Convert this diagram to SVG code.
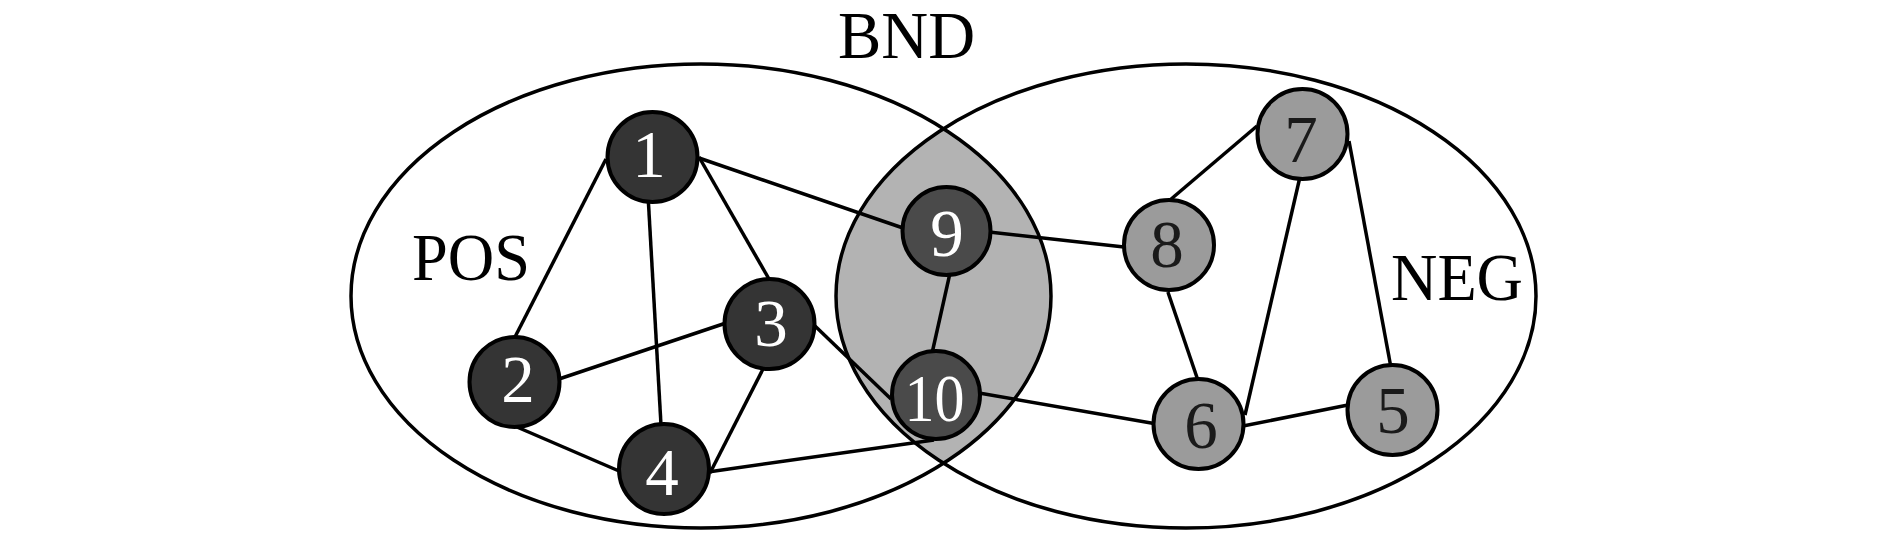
<svg xmlns="http://www.w3.org/2000/svg" width="1890" height="543" viewBox="0 0 1890 543">
<style>
.set{fill:none;stroke:#000;stroke-width:3.5}
.edge{stroke:#000;stroke-width:3.5;fill:none}
.dark{fill:#343434;stroke:#000;stroke-width:4}
.bnd{fill:#4a4a4a;stroke:#000;stroke-width:4}
.light{fill:#9b9b9b;stroke:#000;stroke-width:4}
.lab{font-family:"Liberation Serif","Times New Roman",serif;font-size:68px;fill:#000}
.num{font-family:"Liberation Serif","Times New Roman",serif;font-size:67px;text-anchor:middle}
.w{fill:#fff}
.b{fill:#1a1a1a}
</style>
<defs>
<clipPath id="leftClip"><ellipse cx="701" cy="296" rx="350" ry="232"/></clipPath>
</defs>
<rect width="1890" height="543" fill="#fff"/>
<g id="sets">
<ellipse cx="1186" cy="296" rx="350" ry="232" fill="#b3b3b3" clip-path="url(#leftClip)"/>
<ellipse class="set" cx="701" cy="296" rx="350" ry="232"/>
<ellipse class="set" cx="1186" cy="296" rx="350" ry="232"/>
</g>
<g id="labels">
<text class="lab" x="838" y="58" textLength="137" lengthAdjust="spacingAndGlyphs">BND</text>
<text class="lab" x="412" y="280" textLength="118" lengthAdjust="spacingAndGlyphs">POS</text>
<text class="lab" x="1391" y="300" textLength="132" lengthAdjust="spacingAndGlyphs">NEG</text>
</g>
<g id="connectors">
<line class="edge" x1="606" y1="159" x2="515.5" y2="336"/>
<line class="edge" x1="648.3" y1="200" x2="661" y2="425"/>
<line class="edge" x1="699" y1="157" x2="769" y2="279"/>
<line class="edge" x1="699" y1="158" x2="903" y2="228"/>
<line class="edge" x1="559" y1="379" x2="726" y2="323"/>
<line class="edge" x1="516.9" y1="427" x2="619" y2="471"/>
<line class="edge" x1="763" y1="369" x2="710" y2="473"/>
<line class="edge" x1="815" y1="326" x2="891" y2="399"/>
<line class="edge" x1="708" y1="472" x2="934" y2="440"/>
<line class="edge" x1="949.8" y1="274" x2="932.3" y2="352"/>
<line class="edge" x1="989" y1="232" x2="1124" y2="247"/>
<line class="edge" x1="979" y1="393" x2="1154" y2="423.5"/>
<line class="edge" x1="1170" y1="200" x2="1257" y2="126"/>
<line class="edge" x1="1167.9" y1="292" x2="1197.5" y2="379"/>
<line class="edge" x1="1299.5" y1="179" x2="1245" y2="415"/>
<line class="edge" x1="1349" y1="141" x2="1390.5" y2="365"/>
<line class="edge" x1="1243" y1="426" x2="1348" y2="405"/>
</g>
<g id="node1"><circle class="dark" cx="652.5" cy="157" r="45"/><text class="num w" x="649" y="177">1</text></g>
<g id="node2"><circle class="dark" cx="514.5" cy="382" r="45"/><text class="num w" x="518" y="401.5">2</text></g>
<g id="node3"><circle class="dark" cx="769.5" cy="324" r="45"/><text class="num w" x="771" y="346">3</text></g>
<g id="node4"><circle class="dark" cx="664" cy="469" r="45"/><text class="num w" x="662" y="495">4</text></g>
<g id="node9"><circle class="bnd" cx="946.5" cy="231" r="44"/><text class="num w" x="947" y="256">9</text></g>
<g id="node10"><circle class="bnd" cx="936" cy="395" r="44"/><text class="num w" x="934.5" y="420.5" textLength="60" lengthAdjust="spacingAndGlyphs">10</text></g>
<g id="node7"><circle class="light" cx="1302.5" cy="134" r="45"/><text class="num b" x="1301" y="162">7</text></g>
<g id="node8"><circle class="light" cx="1169" cy="245" r="45"/><text class="num b" x="1167" y="266.5">8</text></g>
<g id="node6"><circle class="light" cx="1198.5" cy="424" r="45"/><text class="num b" x="1201" y="448">6</text></g>
<g id="node5"><circle class="light" cx="1392.5" cy="410" r="45"/><text class="num b" x="1393" y="432.5">5</text></g>
</svg>
